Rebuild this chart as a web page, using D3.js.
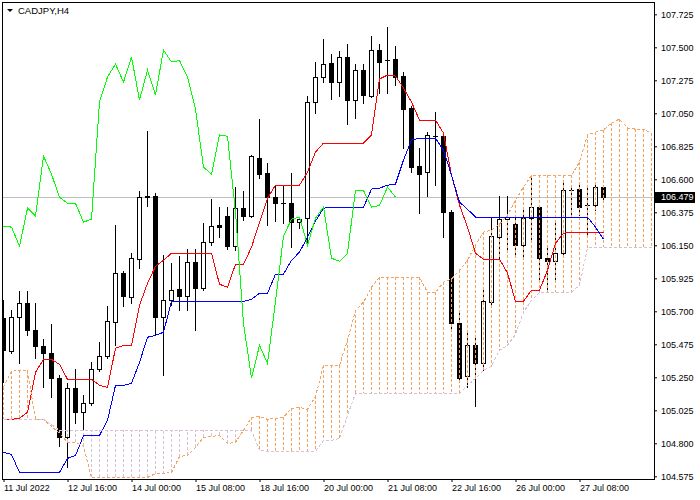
<!DOCTYPE html>
<html><head><meta charset="utf-8">
<script src="https://cdn.jsdelivr.net/npm/d3@7"></script>
<style>body{margin:0;background:#fff}svg{display:block}</style>
</head><body>
<svg id="chart" width="700" height="500"></svg>
<script>
const symbolTitle = "CADJPY,H4";
const open = [105.652,105.427,105.659,105.755,105.570,105.461,105.413,105.243,104.840,105.175,
105.011,105.072,105.304,105.393,105.625,105.960,105.796,106.055,106.485,106.485,
105.659,105.775,105.850,105.802,106.035,105.857,106.171,106.287,106.349,106.144,
106.403,106.349,106.745,106.642,106.478,106.437,106.437,106.308,106.335,107.127,
107.297,107.393,107.263,107.434,107.140,107.345,107.168,107.482,107.413,107.420,
107.304,107.086,106.690,106.649,106.895,106.895,106.376,105.618,105.256,105.468,
105.345,105.762,106.205,106.328,106.294,106.151,106.335,106.410,106.062,106.041,
106.096,106.526,106.533,106.424,106.424,106.547];
const high = [105.775,105.707,105.837,105.837,105.755,105.509,105.611,105.263,105.209,105.304,
105.127,105.352,105.489,105.734,106.287,105.973,106.096,106.519,106.929,106.506,
106.082,106.028,106.076,106.123,106.123,106.301,106.465,106.410,106.410,106.547,
106.519,106.765,107.011,106.710,106.560,106.560,106.642,106.328,107.168,107.400,
107.557,107.454,107.475,107.523,107.386,107.386,107.577,107.523,107.639,107.509,
107.332,107.099,106.813,106.922,107.059,106.915,106.390,105.693,105.570,105.516,
105.844,106.335,106.485,106.485,106.355,106.390,106.628,106.424,106.151,106.301,
106.574,106.560,106.581,106.560,106.581,106.553];
const low = [105.216,105.413,105.345,105.536,105.379,105.181,105.113,104.785,104.635,104.936,
104.888,105.059,105.291,105.379,105.468,105.734,105.755,105.994,106.417,105.536,
105.263,105.741,105.707,105.707,105.570,105.844,106.151,106.205,106.123,106.117,
106.321,106.342,106.608,106.287,106.315,106.301,106.137,106.267,106.151,107.052,
107.263,107.147,107.168,106.977,107.018,107.120,107.161,107.188,107.188,107.243,
106.813,106.649,106.369,106.485,106.560,106.205,105.570,105.229,105.181,105.052,
105.297,105.741,106.055,106.117,106.069,106.062,106.185,105.912,105.844,105.912,
106.082,106.355,106.355,106.219,106.390,106.444];
const close = [105.434,105.659,105.755,105.570,105.461,105.413,105.243,104.840,105.175,105.011,
105.072,105.304,105.393,105.632,105.960,105.802,106.062,106.478,106.480,105.659,
105.775,105.844,105.802,106.035,105.857,106.171,106.280,106.274,106.144,106.403,
106.349,106.758,106.635,106.478,106.437,106.437,106.308,106.328,107.127,107.297,
107.386,107.263,107.434,107.140,107.345,107.175,107.482,107.400,107.410,107.297,
107.079,106.683,106.635,106.902,106.893,106.376,105.618,105.243,105.468,105.345,
105.768,106.212,106.328,106.342,106.151,106.335,106.410,106.062,106.041,106.096,
106.526,106.524,106.410,106.422,106.547,106.479];
const tenkan = [104.963,104.963,104.970,105.011,105.284,105.372,105.372,105.338,105.236,105.236,
105.236,105.236,105.195,105.181,105.448,105.468,105.468,105.741,105.891,106.007,
106.048,106.096,106.096,106.096,106.096,106.096,106.096,105.884,105.864,106.021,
106.021,106.137,106.308,106.471,106.560,106.560,106.560,106.560,106.649,106.785,
106.847,106.847,106.847,106.847,106.847,106.847,106.902,107.284,107.311,107.304,
107.222,107.127,107.004,107.004,107.004,106.915,106.628,106.424,106.274,106.096,
106.055,106.055,106.055,105.960,105.768,105.768,105.844,105.844,105.980,106.164,
106.233,106.239,106.239,106.239,106.239,106.239];
const kijun = [104.738,104.724,104.601,104.601,104.601,104.601,104.601,104.601,104.697,104.717,
104.854,104.854,104.854,104.956,105.195,105.195,105.209,105.352,105.523,105.536,
105.557,105.768,105.768,105.768,105.768,105.768,105.768,105.768,105.768,105.768,
105.768,105.782,105.823,105.823,105.953,105.953,106.048,106.103,106.205,106.315,
106.403,106.410,106.410,106.410,106.410,106.410,106.533,106.540,106.560,106.567,
106.731,106.867,106.881,106.881,106.881,106.799,106.628,106.444,106.396,106.342,
106.342,106.342,106.342,106.342,106.342,106.342,106.342,106.342,106.342,106.342,
106.342,106.342,106.342,106.342,106.274,106.192];
const spanA = [105.181,105.291,105.297,105.297,104.963,104.963,104.915,104.867,104.806,104.806,
104.779,104.567,104.567,104.567,104.567,104.567,104.567,104.567,104.567,104.594,
104.594,104.601,104.710,104.717,104.772,104.840,104.847,104.854,104.799,104.806,
104.888,104.977,104.983,104.963,104.970,104.977,105.038,105.045,105.031,105.120,
105.331,105.331,105.331,105.502,105.707,105.762,105.864,105.932,105.932,105.932,
105.932,105.932,105.932,105.830,105.830,105.898,105.919,105.980,106.048,106.151,
106.239,106.253,106.294,106.355,106.458,106.547,106.628,106.628,106.628,106.628,
106.628,106.628,106.717,106.902,106.922,106.936,106.983,107.011,106.949,106.942,
106.942,106.915];
const spanB = [104.963,104.963,104.963,104.963,104.963,104.963,104.929,104.888,104.888,104.888,
104.888,104.888,104.888,104.888,104.888,104.888,104.888,104.888,104.888,104.888,
104.888,104.888,104.888,104.888,104.888,104.888,104.888,104.888,104.888,104.888,
104.888,104.888,104.751,104.745,104.745,104.745,104.745,104.745,104.745,104.745,
104.820,104.820,104.833,104.990,105.140,105.140,105.140,105.140,105.140,105.140,
105.140,105.140,105.140,105.140,105.140,105.140,105.140,105.140,105.195,105.243,
105.297,105.325,105.434,105.468,105.543,105.693,105.775,105.830,105.830,105.830,
105.830,105.830,105.878,106.130,106.137,106.137,106.137,106.137,106.137,106.137,
106.137,106.137];
const chikouShift = 26;
const lastPrice = 106.479;
const priceTicks = [107.725,107.500,107.275,107.050,106.825,106.600,106.375,106.150,105.925,105.700,105.475,105.250,105.025,104.800,104.575];
const timeLabels = ["11 Jul 2022","12 Jul 16:00","14 Jul 00:00","15 Jul 08:00","18 Jul 16:00","20 Jul 00:00","21 Jul 08:00","22 Jul 16:00","26 Jul 00:00","27 Jul 08:00"];
const timeLabelBars = [0,8,16,24,32,40,48,56,64,72];

const FONT = "'Liberation Sans', Arial, sans-serif";
const L = 2, T = 2, R = 654, B = 479;
const svg = d3.select("#chart");
const x = d3.scaleLinear().domain([0, spanA.length - 1]).range([3, 3 + 8 * (spanA.length - 1)]);
const y = d3.scaleLinear().domain([104.575, 107.725]).range([476.3, 14.3]);
const px = k => Math.round(x(k)) + 0.5;

svg.append("defs").append("clipPath").attr("id", "plotclip")
  .append("rect").attr("x", L + 1).attr("y", T + 1).attr("width", R - L - 1).attr("height", B - T - 1);
const plot = svg.append("g").attr("clip-path", "url(#plotclip)");

// current price line
plot.append("line").attr("x1", L).attr("x2", R).attr("y1", Math.round(y(lastPrice)) + 0.5).attr("y2", Math.round(y(lastPrice)) + 0.5)
  .attr("stroke", "#c0c0c0").attr("shape-rendering", "crispEdges");

// candles
const bars = d3.range(open.length);
const cg = plot.append("g").attr("shape-rendering", "crispEdges");
cg.selectAll("line.wick").data(bars).join("line").attr("class", "wick")
  .attr("x1", px).attr("x2", px)
  .attr("y1", i => Math.round(y(high[i]))).attr("y2", i => Math.round(y(low[i])) + 1)
  .attr("stroke", "#000");
bars.forEach(i => {
  const yt = Math.round(y(Math.max(open[i], close[i])));
  const yb = Math.round(y(Math.min(open[i], close[i])));
  const cx = Math.round(x(i));
  if (yb - yt < 1) {
    cg.append("line").attr("x1", cx - 2).attr("x2", cx + 3).attr("y1", yt + 0.5).attr("y2", yt + 0.5).attr("stroke", "#000");
  } else {
    cg.append("rect").attr("x", cx - 1.5).attr("width", 4).attr("y", yt + 0.5).attr("height", yb - yt)
      .attr("fill", close[i] >= open[i] ? "#fff" : "#000").attr("stroke", "#000");
  }
});

// cloud hatches
const SANDY = "#f4a460", THISTLE = "#d8bfd8";
const cloudIdx = d3.range(spanA.length);
plot.append("g").attr("shape-rendering", "crispEdges").selectAll("line").data(cloudIdx).join("line")
  .attr("x1", px).attr("x2", px)
  .attr("y1", k => y(spanA[k])).attr("y2", k => y(spanB[k]))
  .attr("stroke", k => spanA[k] >= spanB[k] ? SANDY : THISTLE)
  .attr("stroke-dasharray", "3,2");

const lineGen = arr => d3.line().x(k => px(k)).y(k => y(arr[k]));
const drawLine = (idx, gen, color, dash) => {
  const p = plot.append("path").datum(idx).attr("d", gen).attr("fill", "none").attr("stroke", color)
    .attr("stroke-width", 1).attr("shape-rendering", "crispEdges");
  if (dash) p.attr("stroke-dasharray", dash);
};
drawLine(bars, lineGen(tenkan), "#ff0000");
drawLine(bars, lineGen(kijun), "#0000ff");
const chIdx = d3.range(0, close.length - chikouShift);
drawLine(chIdx, d3.line().x(k => px(k)).y(k => y(close[k + chikouShift])), "#00ff00");
drawLine(cloudIdx, lineGen(spanA), SANDY, "3,2");
drawLine(cloudIdx, lineGen(spanB), THISTLE, "3,2");

// axes
const yAxis = d3.axisRight(y).tickValues(priceTicks).tickFormat(d3.format(".3f")).tickSize(3).tickPadding(4);
const yg = svg.append("g").attr("transform", `translate(${R},0)`).call(yAxis);
yg.select(".domain").remove();
yg.attr("font-family", FONT).attr("font-size", 9);
yg.selectAll("text").attr("fill", "#000").attr("dy", "0.37em");
yg.selectAll("line").attr("stroke", "#000");

const xAxis = d3.axisBottom(x).tickValues(timeLabelBars).tickFormat((d, i) => timeLabels[i]).tickSize(3).tickPadding(3);
const xg = svg.append("g").attr("transform", `translate(0.5,${B})`).call(xAxis);
xg.select(".domain").remove();
xg.attr("font-family", FONT).attr("font-size", 9);
xg.selectAll("text").attr("fill", "#000").attr("text-anchor", "start").attr("x", 0);
xg.selectAll("line").attr("stroke", "#000");

// frame
svg.append("path").attr("d", `M${L + 0.5},${B + 0.5}V${T + 0.5}H${R + 0.5}V${B + 0.5}H${L + 0.5}`)
  .attr("fill", "none").attr("stroke", "#000").attr("shape-rendering", "crispEdges");

// last price label
const ly = y(lastPrice);
svg.append("rect").attr("x", R + 1).attr("y", Math.round(ly) - 5).attr("width", 40).attr("height", 11).attr("fill", "#000");
svg.append("text").attr("x", R + 7).attr("y", ly + 3.4).attr("fill", "#fff")
  .attr("font-family", FONT).attr("font-size", 9).text(d3.format(".3f")(lastPrice));

// title
svg.append("path").attr("d", "M7,9L13,9L10,12Z").attr("fill", "#000");
svg.append("text").attr("x", 18).attr("y", 14).attr("font-family", FONT).attr("font-size", 9.5).attr("fill", "#000").text(symbolTitle);
</script>
</body></html>
